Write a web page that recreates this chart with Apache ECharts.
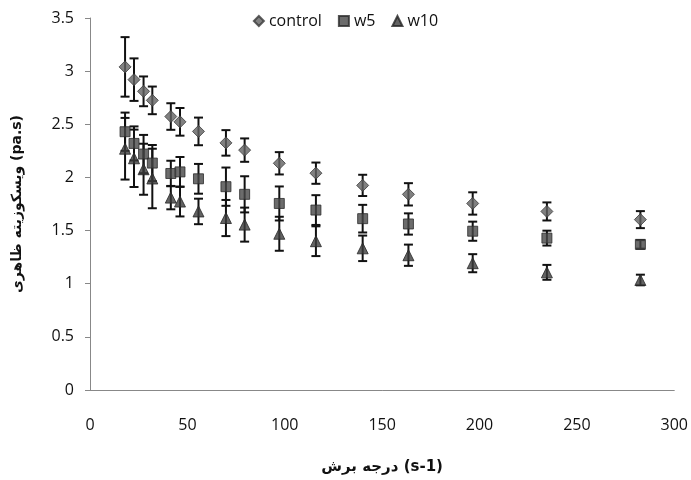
<!DOCTYPE html>
<html><head><meta charset="utf-8">
<script src="https://cdn.jsdelivr.net/npm/echarts@6/dist/echarts.min.js"></script>
<style>html,body{margin:0;padding:0;background:#fff}#c{width:691px;height:480px}</style>
</head><body><div id="c"></div>
<script>
var shearRate = [18, 22.6, 27.5, 32, 41.5, 46.2, 55.7, 69.8, 79.4, 97.2, 116, 140, 163.5, 196.5, 234.6, 282.6];
var control = [3.04, 2.92, 2.81, 2.725, 2.573, 2.523, 2.433, 2.325, 2.257, 2.133, 2.04, 1.925, 1.841, 1.755, 1.68, 1.603];
var controlErr = [0.28, 0.2, 0.14, 0.13, 0.125, 0.13, 0.13, 0.12, 0.11, 0.105, 0.1, 0.1, 0.105, 0.105, 0.085, 0.08];
var w5 = [2.43, 2.32, 2.22, 2.135, 2.037, 2.052, 1.987, 1.913, 1.841, 1.755, 1.693, 1.612, 1.562, 1.494, 1.429, 1.37];
var w5Err = [0.18, 0.16, 0.18, 0.17, 0.12, 0.14, 0.14, 0.18, 0.17, 0.16, 0.14, 0.13, 0.1, 0.09, 0.07, 0.04];
var w10 = [2.27, 2.18, 2.077, 1.99, 1.81, 1.773, 1.68, 1.618, 1.556, 1.47, 1.40, 1.333, 1.268, 1.193, 1.107, 1.035];
var w10Err = [0.29, 0.27, 0.24, 0.28, 0.11, 0.14, 0.12, 0.17, 0.16, 0.16, 0.14, 0.12, 0.1, 0.085, 0.07, 0.05];
var xTitle = 'درجه برش (s-1)';
var yTitle = 'ویسکوزیته ظاهری (pa.s)';

function pts(v){ return shearRate.map(function(x,i){ return [x, v[i]]; }); }
function errs(v,e){ return shearRate.map(function(x,i){ return [x, v[i]-e[i], v[i]+e[i]]; }); }
function errRender(params, api){
  var x = api.value(0), lo = api.value(1), hi = api.value(2);
  var p1 = api.coord([x, hi]), p2 = api.coord([x, lo]);
  var w = 4.5;
  var st = {stroke:'#111', lineWidth:2};
  return {type:'group', children:[
    {type:'line', shape:{x1:p1[0], y1:p1[1], x2:p2[0], y2:p2[1]}, style:st},
    {type:'line', shape:{x1:p1[0]-w, y1:p1[1], x2:p1[0]+w, y2:p1[1]}, style:st},
    {type:'line', shape:{x1:p2[0]-w, y1:p2[1], x2:p2[0]+w, y2:p2[1]}, style:st}
  ]};
}
function errSeries(v,e){
  return {type:'custom', renderItem:errRender, data:errs(v,e), z:1, silent:true,
    encode:{x:0, y:[1,2]}};
}
var chart = echarts.init(document.getElementById('c'));
chart.setOption({
  animation:false,
  textStyle:{fontFamily:'Open Sans'},
  grid:{left:90, right:15, top:18, bottom:88},
  legend:{top:8, left:'center', itemWidth:10, itemHeight:10, itemGap:16,
    textStyle:{fontSize:16, color:'#111', fontFamily:'Open Sans', padding:[0,0,0,0]},
    data:[{name:'control', icon:'diamond'},{name:'w5', icon:'rect'},{name:'w10', icon:'triangle'}]},
  xAxis:{type:'value', min:0, max:300, interval:50,
    axisLine:{lineStyle:{color:'#888', width:1}}, axisTick:{show:false},
    splitLine:{show:false},
    axisLabel:{fontSize:16, color:'#111', margin:27},
    name:xTitle, nameLocation:'middle', nameGap:70,
    nameTextStyle:{fontSize:15, fontWeight:'bold', color:'#111', fontFamily:'DejaVu Sans'}},
  yAxis:{type:'value', min:0, max:3.5, interval:0.5,
    axisLine:{show:true, lineStyle:{color:'#888', width:1}},
    axisTick:{show:true, length:5, lineStyle:{color:'#888'}},
    splitLine:{show:false},
    axisLabel:{fontSize:16, color:'#111', margin:16},
    name:yTitle, nameLocation:'middle', nameGap:66, nameRotate:90,
    nameTextStyle:{fontSize:14, fontWeight:'bold', color:'#111', fontFamily:'DejaVu Sans'}},
  series:[
    errSeries(control, controlErr), errSeries(w5, w5Err), errSeries(w10, w10Err),
    {name:'control', type:'scatter', data:pts(control), symbol:'diamond', symbolSize:12, z:3,
      itemStyle:{color:'#626262', borderColor:'#3a3a3a', borderWidth:1}},
    {name:'w5', type:'scatter', data:pts(w5), symbol:'rect', symbolSize:10, z:3,
      itemStyle:{color:'#474747', borderColor:'#2a2a2a', borderWidth:1}},
    {name:'w10', type:'scatter', data:pts(w10), symbol:'triangle', symbolSize:11, z:3,
      itemStyle:{color:'#3c3c3c', borderColor:'#262626', borderWidth:1}}
  ]
});
</script></body></html>
